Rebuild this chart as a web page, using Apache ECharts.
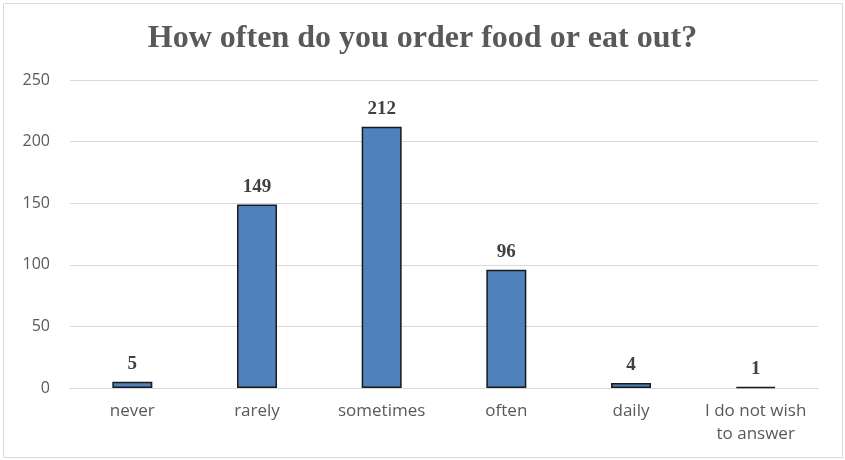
<!DOCTYPE html>
<html>
<head>
<meta charset="utf-8">
<script src="https://cdn.jsdelivr.net/npm/echarts@6/dist/echarts.min.js"></script>
<style>
  html, body { margin: 0; padding: 0; background: #fff; }
  #chart { width: 845px; height: 460px; }
</style>
</head>
<body>
<div id="chart"></div>
<script>
// Survey answers and how many respondents chose each
const categories = ['never', 'rarely', 'sometimes', 'often', 'daily', 'I do not wish\nto answer'];
const counts = [5, 149, 212, 96, 4, 1];
const yTicks = [0, 50, 100, 150, 200, 250];

const chart = echarts.init(document.getElementById('chart'));
chart.setOption({
  animation: false,
  backgroundColor: '#ffffff',
  title: {
    text: 'How often do you order food or eat out?',
    left: 'center',
    top: 18,
    textStyle: {
      fontFamily: 'Liberation Serif',
      fontWeight: 'bold',
      fontSize: 32,
      color: '#595959'
    }
  },
  graphic: [{
    type: 'rect',
    shape: { x: 3.5, y: 3.5, width: 839, height: 454 },
    style: { fill: 'none', stroke: '#d9d9d9', lineWidth: 1 },
    silent: true
  }],
  grid: { left: 70, right: 27, top: 80, bottom: 72 },
  xAxis: {
    type: 'category',
    data: categories,
    axisLine: { lineStyle: { color: '#d9d9d9', width: 1 } },
    axisTick: { show: false },
    axisLabel: {
      interval: 0,
      hideOverlap: false,
      color: '#595959',
      fontFamily: 'Open Sans',
      fontSize: 17,
      margin: 12,
      lineHeight: 23
    }
  },
  yAxis: {
    type: 'value',
    min: yTicks[0],
    max: yTicks[yTicks.length - 1],
    interval: 50,
    axisLine: { show: false },
    axisTick: { show: false },
    splitLine: { lineStyle: { color: '#d9d9d9', width: 1 } },
    axisLabel: {
      color: '#595959',
      fontFamily: 'Open Sans',
      fontSize: 16,
      margin: 20
    }
  },
  series: [{
    type: 'bar',
    data: counts,
    barWidth: 40,
    itemStyle: {
      color: '#4f81bd',
      borderColor: '#1a1a1a',
      borderWidth: 1.5
    },
    label: {
      show: true,
      position: 'top',
      distance: 8,
      fontFamily: 'Liberation Serif',
      fontWeight: 'bold',
      fontSize: 19,
      color: '#404040'
    }
  }]
});
</script>
</body>
</html>
